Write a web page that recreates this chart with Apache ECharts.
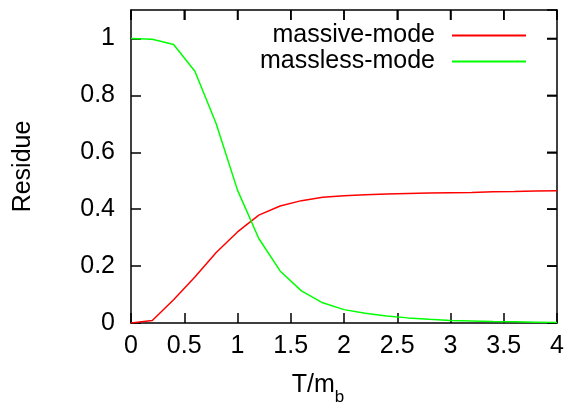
<!DOCTYPE html>
<html>
<head>
<meta charset="utf-8">
<script src="https://cdn.jsdelivr.net/npm/echarts@6/dist/echarts.min.js"></script>
<style>html,body{margin:0;padding:0;background:#fff}#c{width:566px;height:405px}</style>
</head>
<body>
<div id="c"></div>
<script>
var T = [0, 0.2, 0.4, 0.6, 0.8, 1.0, 1.2, 1.4, 1.6, 1.8, 2.0, 2.2, 2.4, 2.6, 2.8, 3.0, 3.2, 3.4, 3.6, 3.8, 4.0];
var massive = [0, 0.009, 0.082, 0.162, 0.248, 0.320, 0.379, 0.411, 0.430, 0.442, 0.447, 0.451, 0.453, 0.455, 0.457, 0.458, 0.459, 0.461, 0.462, 0.464, 0.465];
var massless = [1.0, 0.997, 0.979, 0.885, 0.700, 0.467, 0.297, 0.183, 0.113, 0.071, 0.047, 0.034, 0.025, 0.018, 0.013, 0.009, 0.007, 0.005, 0.004, 0.003, 0.002];
var seriesNames = ['massive-mode', 'massless-mode'];
var xName = 'T/m';
var xSub = 'b';
var yName = 'Residue';

var font = 'Liberation Sans, Arial, sans-serif';
var fs = 25;
function pairs(xs, ys) { return xs.map(function (x, i) { return [x, ys[i]]; }); }
function tickStyle() { return { show: true, inside: true, interval: 0, length: 10, lineStyle: { color: '#000', width: 1.5, opacity: 1 } }; }
function lineStyleAx() { return { show: true, onZero: false, lineStyle: { color: '#000', width: 1.5 } }; }

var chart = echarts.init(document.getElementById('c'));
chart.setOption({
  animation: false,
  grid: { left: 131, right: 9, top: 10, bottom: 82, outerBoundsMode: 'none', containLabel: false },
  legend: {
    right: 35, top: 18, orient: 'vertical', align: 'right',
    itemWidth: 74, itemHeight: 2, itemGap: 1, icon: 'rect',
    textStyle: { fontFamily: font, fontSize: fs, color: '#000', padding: [0, 12, 0, 0] },
    data: seriesNames
  },
  xAxis: [{
    type: 'value', min: 0, max: 4, interval: 0.5,
    name: '{a|' + xName + '}{b|' + xSub + '}', nameLocation: 'middle', nameGap: 50,
    nameTextStyle: { padding: [0, 52, 0, 0], rich: {
      a: { fontFamily: font, fontSize: fs, color: '#000' },
      b: { fontFamily: font, fontSize: 17, color: '#000', verticalAlign: 'bottom', padding: [0, 0, -8, 0] } } },
    axisLine: lineStyleAx(),
    axisTick: tickStyle(),
    axisLabel: { margin: 11, fontFamily: font, fontSize: fs, color: '#000' },
    splitLine: { show: false }
  }, {
    type: 'value', position: 'top', min: 0, max: 4, interval: 0.5,
    axisLine: lineStyleAx(),
    axisTick: tickStyle(),
    axisLabel: { show: false }, splitLine: { show: false }
  }],
  yAxis: [{
    type: 'value', min: 0, max: 1.1, interval: 0.2,
    name: yName, nameLocation: 'middle', nameGap: 95, nameRotate: 90,
    nameTextStyle: { fontFamily: font, fontSize: fs, color: '#000' },
    axisLine: lineStyleAx(),
    axisTick: tickStyle(),
    axisLabel: { margin: 16, fontFamily: font, fontSize: fs, color: '#000', showMaxLabel: false },
    splitLine: { show: false }
  }, {
    type: 'value', position: 'right', min: 0, max: 1.1, interval: 0.2,
    axisLine: lineStyleAx(),
    axisTick: tickStyle(),
    axisLabel: { show: false }, splitLine: { show: false }
  }],
  series: [{
    name: seriesNames[0], type: 'line', data: pairs(T, massive), showSymbol: false, symbol: 'none',
    xAxisIndex: 1, yAxisIndex: 1,
    lineStyle: { color: '#ff0000', width: 1.5 }, itemStyle: { color: '#ff0000' }
  }, {
    name: seriesNames[1], type: 'line', data: pairs(T, massless), showSymbol: false, symbol: 'none',
    xAxisIndex: 0, yAxisIndex: 0,
    lineStyle: { color: '#00ff00', width: 1.5 }, itemStyle: { color: '#00ff00' }
  }]
});

// Mirror ticks on the top and right edges, placed through the axes' own scales.
function drawMirrorTicks() {
  var els = [];
  var xm = chart.getModel().getComponent('xAxis', 0).axis;
  var ym = chart.getModel().getComponent('yAxis', 0).axis;
  var xTicks = xm.scale.getTicks().map(function (t) { return t.value; });
  var yTicks = ym.scale.getTicks().map(function (t) { return t.value; }).filter(function (v) { return v <= 1.0001; });
  var topY = chart.convertToPixel({ yAxisIndex: 0 }, 1.1);
  var rightX = chart.convertToPixel({ xAxisIndex: 0 }, 4);
  xTicks.forEach(function (v) {
    var px = chart.convertToPixel({ xAxisIndex: 0 }, v);
    els.push({ type: 'line', silent: true, shape: { x1: px, y1: topY, x2: px, y2: topY + 10 }, style: { stroke: '#000', lineWidth: 1.5 } });
  });
  yTicks.forEach(function (v) {
    var py = chart.convertToPixel({ yAxisIndex: 0 }, v);
    els.push({ type: 'line', silent: true, shape: { x1: rightX, y1: py, x2: rightX - 10, y2: py }, style: { stroke: '#000', lineWidth: 1.5 } });
  });
  chart.setOption({ graphic: els });
}
drawMirrorTicks();
</script>
</body>
</html>
